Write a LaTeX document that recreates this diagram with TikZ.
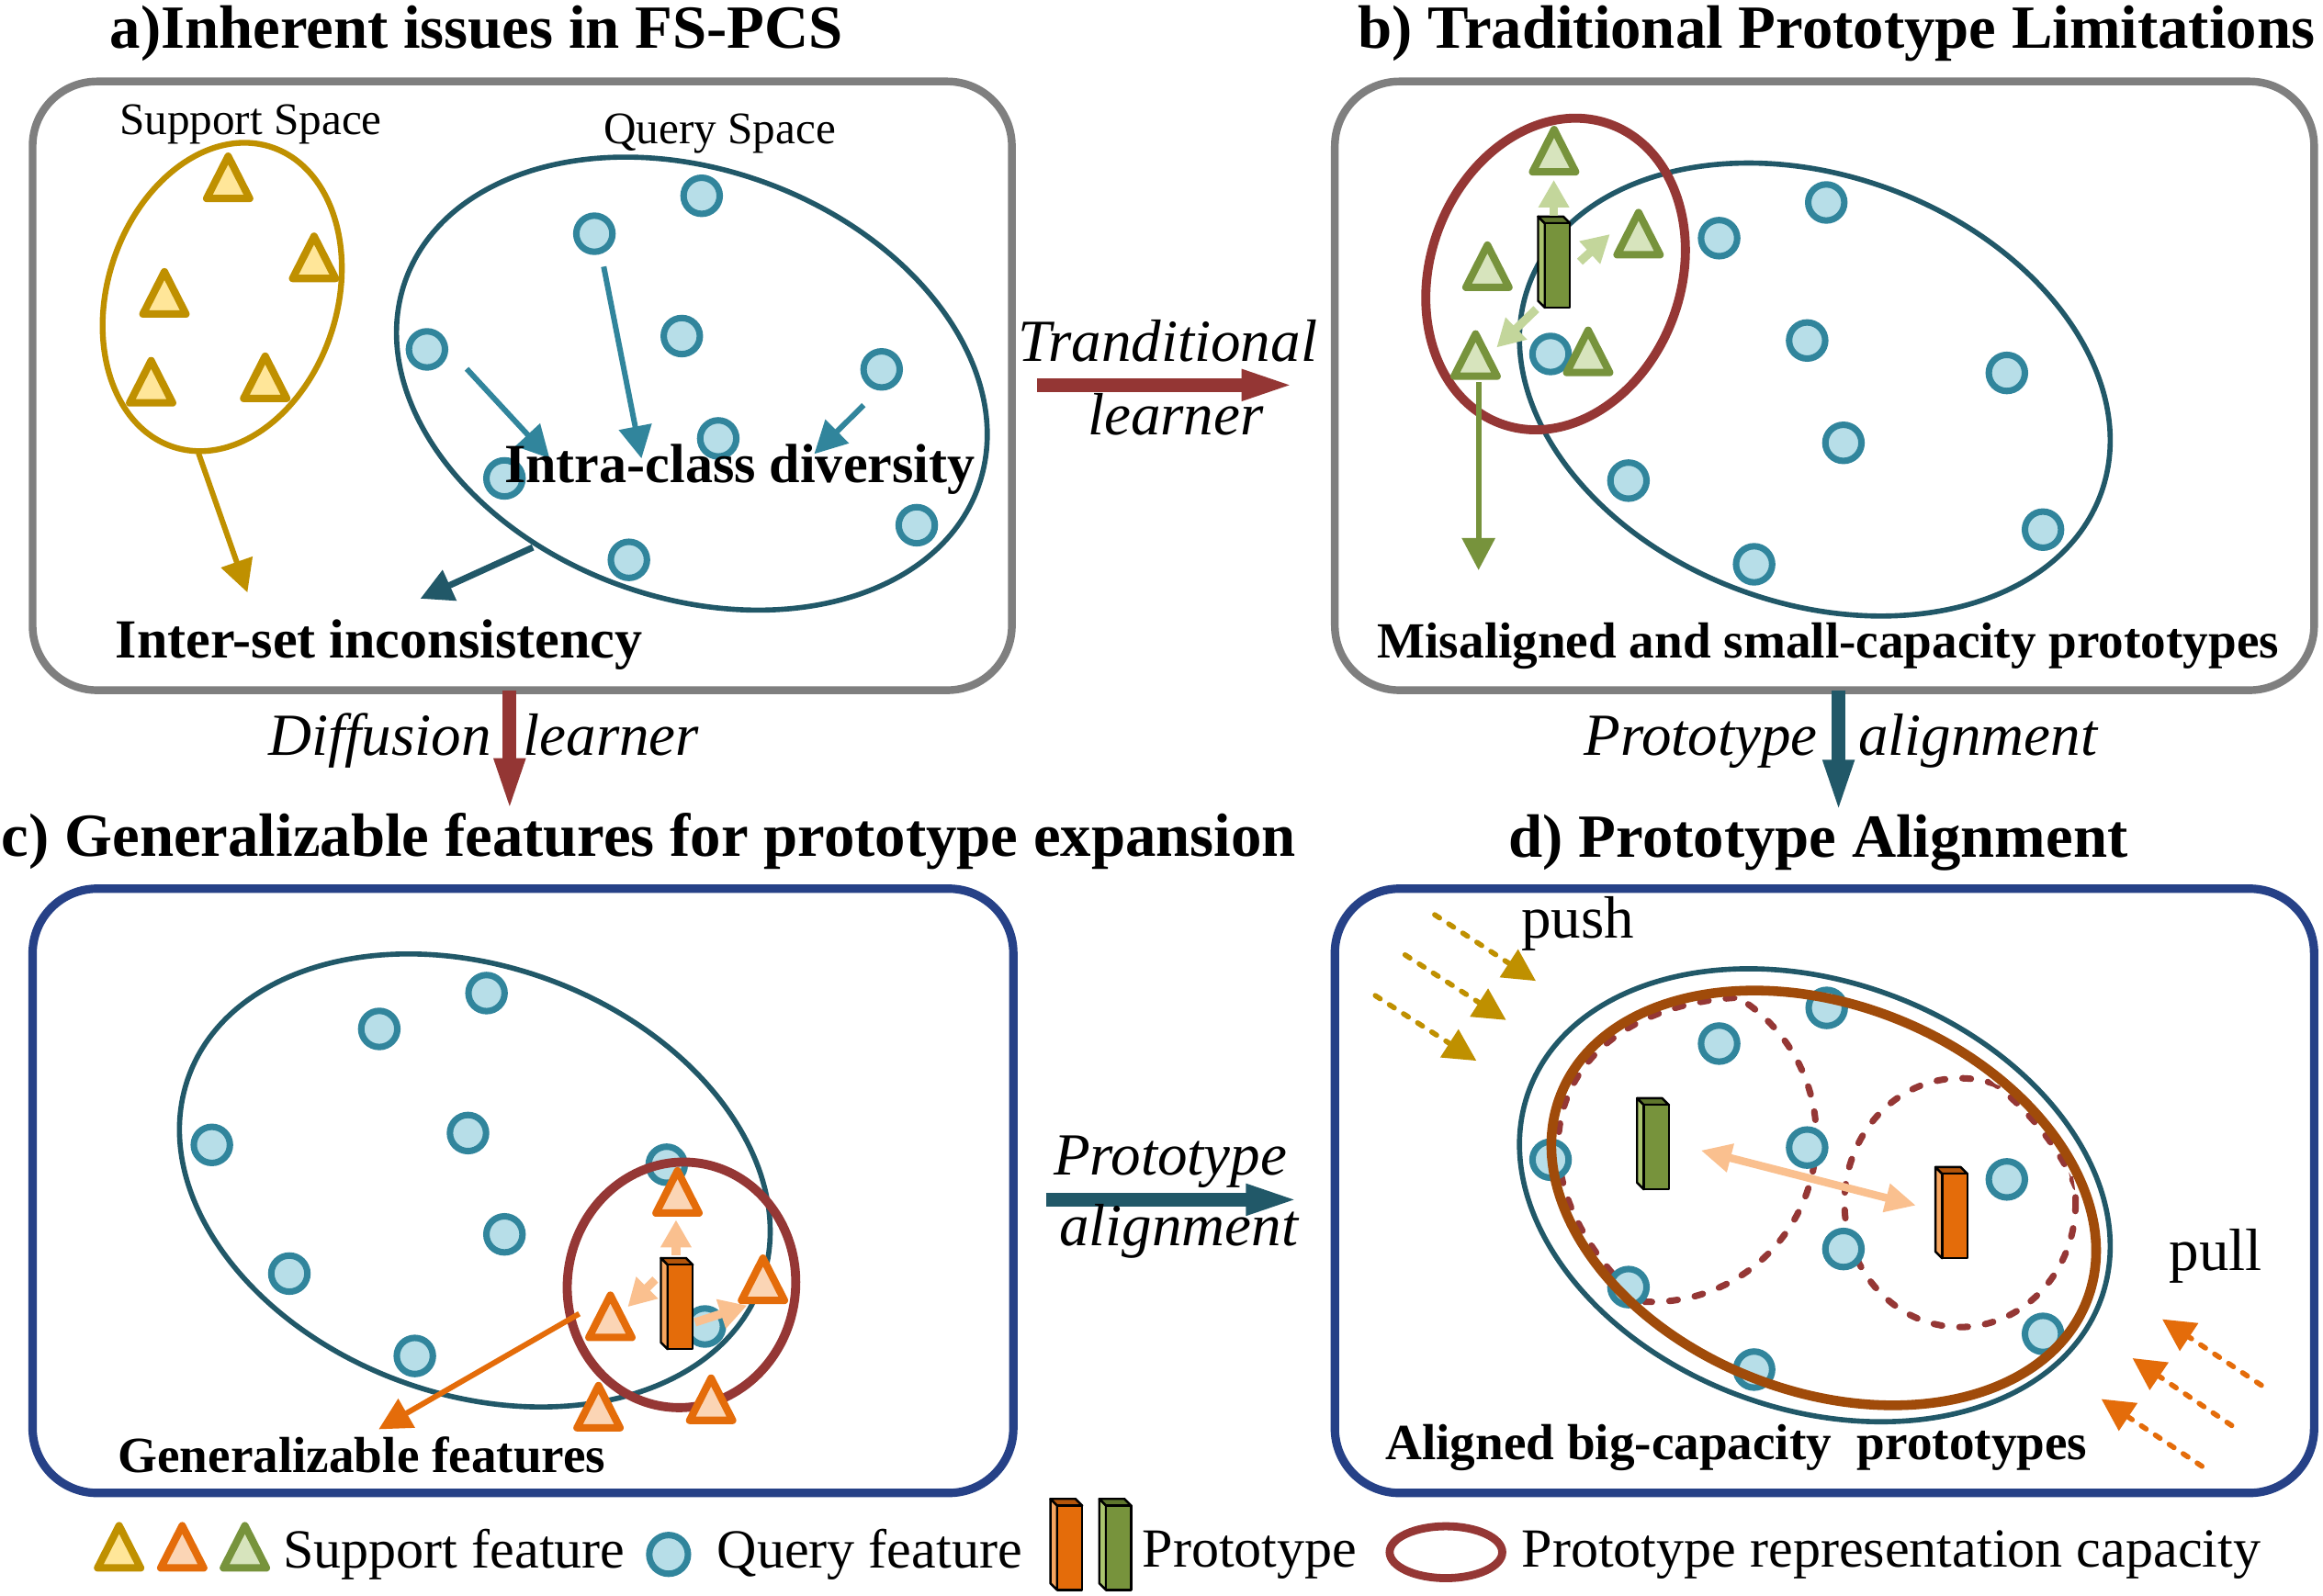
\documentclass[tikz,border=0pt]{standalone}
\usepackage{fontspec}
\setmainfont{Liberation Serif}
\usetikzlibrary{arrows.meta,shapes.geometric}
\definecolor{boxgray}{RGB}{127,127,127}
\definecolor{boxblue}{RGB}{38,65,135}
\definecolor{qdark}{RGB}{33,88,104}
\definecolor{qmid}{RGB}{49,133,156}
\definecolor{qfill}{RGB}{183,222,232}
\definecolor{capred}{RGB}{149,55,53}
\definecolor{goldS}{RGB}{191,144,0}
\definecolor{goldF}{RGB}{255,230,153}
\definecolor{orS}{RGB}{228,108,10}
\definecolor{orF}{RGB}{251,213,181}
\definecolor{grS}{RGB}{119,147,60}
\definecolor{grF}{RGB}{215,228,189}
\definecolor{grL}{RGB}{195,214,155}
\definecolor{orL}{RGB}{250,192,143}
\definecolor{brownE}{RGB}{160,75,10}
\definecolor{bigred}{RGB}{148,54,52}
\definecolor{gfront}{RGB}{119,147,60}
\definecolor{gside}{RGB}{170,196,110}
\definecolor{gtop}{RGB}{95,118,45}
\definecolor{ofront}{RGB}{228,108,10}
\definecolor{oside}{RGB}{246,165,95}
\definecolor{otop}{RGB}{180,85,10}
\newcommand{\mybar}[3]{%
  \filldraw[fill=#2,draw=black,line width=0.7pt,line join=round] (-8.5,-28.5) -- (-13,-33) -- (-13,24) -- (-8.5,28.5) -- cycle;
  \filldraw[fill=#3,draw=black,line width=0.7pt,line join=round] (-8.5,-28.5) -- (-13,-33) -- (4,-33) -- (8.5,-28.5) -- cycle;
  \filldraw[fill=#1,draw=black,line width=0.7pt,line join=round] (-8.5,-28.5) rectangle (8.5,28.5);}
\begin{document}
\begin{tikzpicture}[x=0.016129cm,y=-0.016129cm,
  panelA/.style={draw=boxgray,line width=2.4pt,rounded corners=20pt},
  panelB/.style={draw=boxblue,line width=2.6pt,rounded corners=20pt},
  qf/.style={circle,draw=qmid,fill=qfill,line width=2pt,minimum size=11.2pt,inner sep=0pt},
  qell/.style={draw=qdark,line width=1.6pt},
  tri/.pic={\path[pic actions] (-14.5,14) -- (14.5,14) -- (0,-14.5) -- cycle;},
  gbar/.pic={\mybar{gfront}{gside}{gtop}},
  obar/.pic={\mybar{ofront}{oside}{otop}},
  goldtri/.style={draw=goldS,fill=goldF,line width=2.3pt,line join=round},
  orangetri/.style={draw=orS,fill=orF,line width=2.3pt,line join=round},
  greentri/.style={draw=grS,fill=grF,line width=2.3pt,line join=round},
  txt/.style={inner sep=0pt,anchor=base},
  ttl/.style={txt,font=\fontsize{19}{22}\selectfont\bfseries},
  lbl/.style={txt,font=\fontsize{17.1}{20}\selectfont\bfseries},
  lblsm/.style={txt,font=\fontsize{15.7}{18}\selectfont\bfseries},
  sp/.style={txt,font=\fontsize{14}{16}\selectfont},
  itl/.style={txt,font=\fontsize{18.5}{21}\selectfont\itshape},
  pp/.style={txt,font=\fontsize{18.5}{21}\selectfont},
  leg/.style={txt,font=\fontsize{17.1}{20}\selectfont},
  bigarrow/.style={line width=4.2pt,-{Triangle[length=17pt,width=8.5pt]}},
  farrow/.style={line width=1.7pt,-{Triangle[length=10pt,width=10pt]}},
  lightarr/.style={line width=2.6pt,-{Triangle[length=8.5pt,width=9pt]}},
  dasharr/.style={line width=1.6pt,dash pattern=on 1.8pt off 3.4pt,line cap=round,-{Triangle[length=10pt,width=10pt]}},
  capdash/.style={draw=capred,line width=2pt,dash pattern=on 2.6pt off 5.4pt,line cap=round}
]
\fill[white] (0,0) rectangle (1568,1077);
\useasboundingbox (0,0) rectangle (1568,1077);

% ---------- titles
\node[ttl] (ta) at (321.7,32.5) {a)Inherent issues in FS-PCS};
\node[ttl] (tb) at (1239.6,32.5) {b) Traditional Prototype Limitations};
\node[ttl] (tc) at (438,578) {c) Generalizable features for prototype expansion};
\node[ttl] (td) at (1227.4,578.5) {d) Prototype Alignment};

% ---------- panel a
\draw[panelA] (22,55) rectangle (683,466);
\draw[draw=goldS,line width=1.8pt,rotate around={-18:(150,200.5)}] (150,200.5) ellipse [x radius=77.5,y radius=106.5];
\pic[goldtri] at (154,120) {tri};
\pic[goldtri] at (212,174) {tri};
\pic[goldtri] at (111,198) {tri};
\pic[goldtri] at (102,258) {tri};
\pic[goldtri] at (179,255) {tri};
\draw[qell,rotate around={-20:(467,259)}] (467,259) ellipse [x radius=205.5,y radius=144.5];
\node[qf] (qa1) at (473.6,132.2) {};
\node[qf] (qa2) at (401.2,157.8) {};
\node[qf] (qa3) at (460.2,226.9) {};
\node[qf] (qa4) at (288.2,235.9) {};
\node[qf] (qa5) at (595.1,249.4) {};
\node[qf] (qa6) at (484.8,296) {};
\node[qf] (qa7) at (340.5,323) {};
\node[qf] (qa8) at (618.8,354.6) {};
\node[qf] (qa9) at (424.5,378) {};
\draw[farrow,qmid] (315,249) -- (371,309.5);
\draw[farrow,qmid] (407.5,180) -- (433,309.5);
\draw[farrow,qmid] (583,273.5) -- (549.6,306.5);
\draw[farrow,qdark,line width=2pt] (359.7,369.6) -- (283.7,404.2);
\draw[farrow,goldS] (134,306) -- (167,400);
\node[sp] (ssp) at (169.2,91) {Support Space};
\node[sp] (qsp) at (485.8,96.8) {Query Space};
\node[lbl] (intra) at (499.3,326) {Intra-class diversity};
\node[lbl] (inter) at (255.8,444) {Inter-set inconsistency};

% ---------- panel b
\draw[panelA] (901,55) rectangle (1562,466);
\draw[qell,rotate around={-20:(1225,263)}] (1225,263) ellipse [x radius=205.5,y radius=144.5];
\node[qf] (qb1) at (1232.7,136.7) {};
\node[qf] (qb2) at (1160.4,160.8) {};
\node[qf] (qb3) at (1219.8,229.9) {};
\node[qf] (qb4) at (1354.6,251.8) {};
\node[qf] (qb5) at (1244.3,299) {};
\node[qf] (qb6) at (1099.2,324.5) {};
\node[qf] (qb7) at (1379,357.6) {};
\node[qf] (qb8) at (1184,381) {};
\node[qf] (qb9) at (1046.6,239) {};
\draw[draw=capred,line width=2.8pt,rotate around={-20:(1050,185)}] (1050,185) ellipse [x radius=84.6,y radius=107.6];
\pic at (1051.2,179.2) {gbar};
\draw[lightarr,grL] (1048.8,145.7) -- (1048.8,121.5);
\draw[lightarr,grL] (1066.4,176.7) -- (1086.7,158.1);
\draw[lightarr,grL] (1037,208.7) -- (1010.2,234.6);
\pic[greentri] at (1049,102) {tri};
\pic[greentri] at (1106,158) {tri};
\pic[greentri] at (1004,180) {tri};
\pic[greentri] at (996,240) {tri};
\pic[greentri] at (1072,237.5) {tri};
\draw[farrow,grS] (998,258) -- (998,385);
\node[lblsm] (mis) at (1234,444) {Misaligned and small-capacity prototypes};

% ---------- panel c
\draw[panelB] (22,600) rectangle (684,1008);
\draw[qell,rotate around={-20:(320.5,797)}] (320.5,797) ellipse [x radius=205.5,y radius=144.5];
\node[qf] (qc1) at (328.4,670.5) {};
\node[qf] (qc2) at (256,694.7) {};
\node[qf] (qc3) at (143,773) {};
\node[qf] (qc4) at (315.9,765) {};
\node[qf] (qc5) at (450,786.4) {};
\node[qf] (qc6) at (340.5,833.4) {};
\node[qf] (qc7) at (195.3,859.9) {};
\node[qf] (qc8) at (280,915.5) {};
\node[qf] (qc9) at (475.8,895.6) {};
\draw[draw=capred,line width=2.8pt,rotate around={-8:(460,867.5)}] (460,867.5) ellipse [x radius=77,y radius=83];
\pic at (459.1,882.4) {obar};
\draw[lightarr,orL] (456.3,847.4) -- (456.3,823.6);
\draw[lightarr,orL] (442.3,863.9) -- (423.7,882.4);
\draw[lightarr,orL] (469.1,892.8) -- (504.3,881.4);
\pic[orangetri] at (457.3,805) {tri};
\pic[orangetri] at (515,864) {tri};
\pic[orangetri] at (412,889) {tri};
\pic[orangetri] at (404,950) {tri};
\pic[orangetri] at (480,945) {tri};
\draw[farrow,orS] (391,887) -- (255.6,965);
\node[lblsm] (gen) at (244.2,994) {Generalizable features};

% ---------- panel d
\draw[panelB] (901,600) rectangle (1562,1008);
\draw[qell,rotate around={-20:(1225,807)}] (1225,807) ellipse [x radius=205.5,y radius=144.5];
\begin{scope}
  \clip[rotate around={-21.4:(1231,808.8)}] (1231,808.8) ellipse [x radius=186,y radius=126];
  \draw[capdash] (1115,768) ellipse [x radius=111,y radius=111];
  \draw[capdash] (1323,812) ellipse [x radius=78,y radius=84];
\end{scope}
\begin{scope}
  \clip (1115,768) ellipse [x radius=111,y radius=111];
  \draw[capdash,rotate around={-21.4:(1231,808.8)}] (1231,808.8) ellipse [x radius=186,y radius=126];
\end{scope}
\begin{scope}
  \clip (1323,812) ellipse [x radius=78,y radius=84];
  \draw[capdash,rotate around={-21.4:(1231,808.8)}] (1231,808.8) ellipse [x radius=186,y radius=126];
\end{scope}
\node[qf] (qd1) at (1233,680.5) {};
\node[qf] (qd2) at (1160.4,704.6) {};
\node[qf] (qd3) at (1046.6,783) {};
\node[qf] (qd4) at (1219.8,774.8) {};
\node[qf] (qd5) at (1354.6,796.3) {};
\node[qf] (qd6) at (1244.3,843.3) {};
\node[qf] (qd7) at (1099.2,869) {};
\node[qf] (qd8) at (1379,900.6) {};
\node[qf] (qd9) at (1184,924.7) {};
\draw[draw=brownE,line width=3pt,rotate around={-21.4:(1231,808.8)}] (1231,808.8) ellipse [x radius=190.7,y radius=130.5];
\pic at (1118,774.5) {gbar};
\pic at (1319.4,821) {obar};
\draw[line width=2.4pt,orL,{Triangle[length=9.5pt,width=8.5pt]}-{Triangle[length=9.5pt,width=8.5pt]}] (1148,776.7) -- (1293.3,813.9);
\draw[dasharr,goldS] (968.4,617.6) -- (1036.7,662.3);
\draw[dasharr,goldS] (948.4,644.7) -- (1016.6,688.7);
\draw[dasharr,goldS] (928.3,672.2) -- (996.6,716.2);
\draw[dasharr,orS] (1526.4,935.3) -- (1459.5,890.7);
\draw[dasharr,orS] (1506.4,962.5) -- (1439.4,917);
\draw[dasharr,orS] (1486.3,990) -- (1418.4,944.6);
\node[pp] (push) at (1065,633.5) {push};
\node[pp] (pull) at (1495.7,857.6) {pull};
\node[lblsm] (ali) at (1172,985.7) {Aligned big-capacity\ \ prototypes};

% ---------- connectors between panels
\draw[bigarrow,bigred] (700,260) -- (875,260);
\node[itl] (tl1) at (788.3,243.8) {Tranditional};
\node[itl] (tl2) at (793.5,293.4) {learner};
\draw[bigarrow,bigred] (344,466) -- (344,549);
\node[itl] (dl1) at (256.5,510) {Diffusion};
\node[itl] (dl2) at (412.5,510) {learner};
\draw[bigarrow,qdark] (1241,466) -- (1241,550);
\node[itl] (pa1) at (1148,510) {Prototype};
\node[itl] (pa2) at (1335,510) {alignment};
\draw[bigarrow,qdark] (706,810) -- (878,810);
\node[itl] (ph1) at (790,793.6) {Prototype};
\node[itl] (ph2) at (795.5,841) {alignment};

% ---------- legend
\pic[goldtri] at (80.4,1044.6) {tri};
\pic[orangetri] at (123,1044.6) {tri};
\pic[greentri] at (165.3,1044.6) {tri};
\node[leg] (l1) at (306.5,1058.5) {Support feature};
\node[qf,minimum size=12pt] (lq) at (451.3,1049.5) {};
\node[leg] (l2) at (587,1058.5) {Query feature};
\pic at (722,1045) {obar};
\pic at (755,1045) {gbar};
\node[leg] (l3) at (843.5,1058) {Prototype};
\draw[draw=capred,line width=2.5pt] (976,1048) ellipse [x radius=38,y radius=17.5];
\node[leg] (l4) at (1276.5,1058) {Prototype representation capacity};
\end{tikzpicture}
\end{document}
